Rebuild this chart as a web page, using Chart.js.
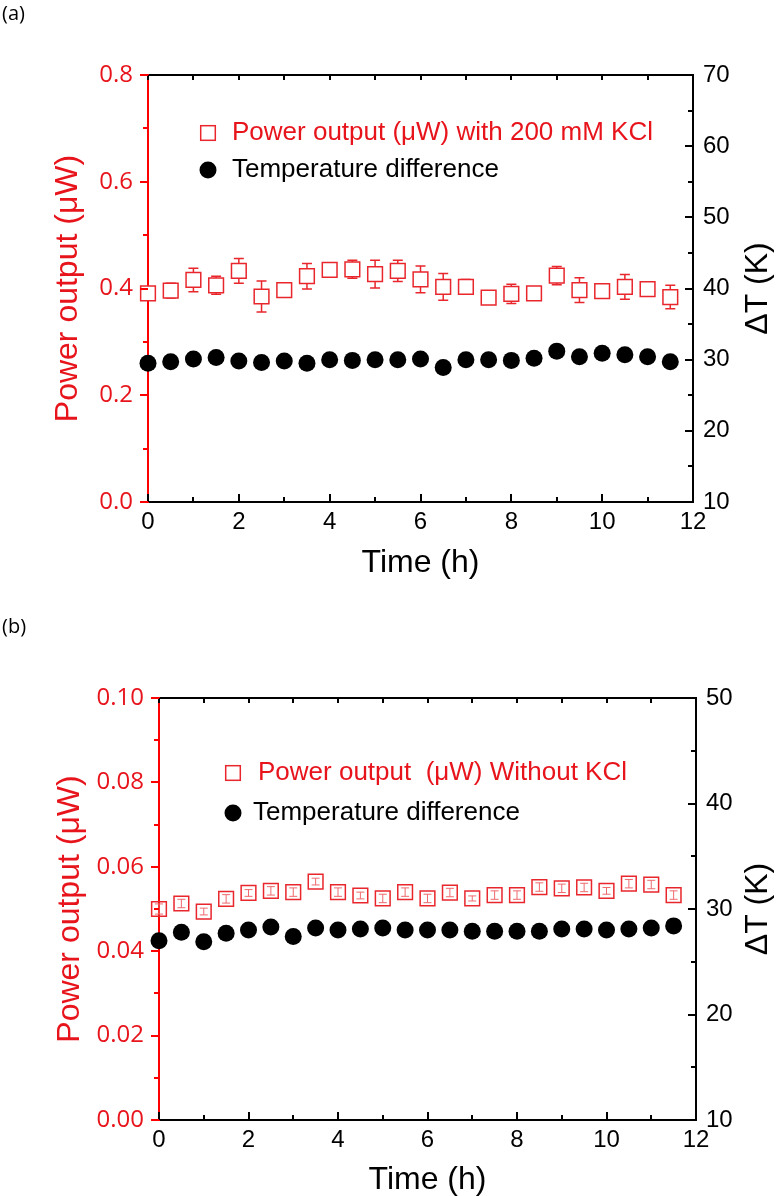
<!DOCTYPE html>
<html>
<head>
<meta charset="utf-8">
<script src="https://cdn.jsdelivr.net/npm/chart.js@4.4.0/dist/chart.umd.min.js"></script>
<style>
  body { margin: 0; background: #fff; width: 779px; height: 1196px; position: relative; overflow: hidden; }
  canvas { position: absolute; left: 0; }
  #chartA { top: 0; }
  #chartB { top: 620px; }
  .tag { position: absolute; left: 2px; font: 20px "Open Sans", sans-serif; color: #000; z-index: 2; }
</style>
</head>
<body>
<div class="tag" style="top:-1px">(a)</div>
<div class="tag" style="top:612px">(b)</div>
<canvas id="chartA" width="779" height="600"></canvas>
<canvas id="chartB" width="779" height="576"></canvas>
<script>
const ARIAL = "'Liberation Sans', Arial, sans-serif";
const CALIBRI = "'Open Sans', sans-serif";
const RED = "#ff0000";
const RED_TEXT = "#e8141c";
const RED_MARK = "#e8262c";

// panel (a): with 200 mM KCl
const timeA = [0, 0.5, 1, 1.5, 2, 2.5, 3, 3.5, 4, 4.5, 5, 5.5, 6, 6.5, 7, 7.5, 8, 8.5, 9, 9.5, 10, 10.5, 11, 11.5];
const powerA = [0.391, 0.396, 0.416, 0.406, 0.433, 0.385, 0.397, 0.423, 0.435, 0.436, 0.427, 0.433,
  0.417, 0.403, 0.403, 0.383, 0.390, 0.391, 0.424, 0.397, 0.395, 0.403, 0.399, 0.384];
const powerErrA = [0.004, 0.014, 0.022, 0.017, 0.023, 0.029, 0.013, 0.024, 0.005, 0.017, 0.026, 0.020,
  0.025, 0.025, 0.014, 0.004, 0.018, 0.004, 0.017, 0.023, 0.004, 0.023, 0.013, 0.022];
const tempA = [29.5, 29.7, 30.1, 30.3, 29.8, 29.6, 29.8, 29.5, 30.0, 29.9, 30.0, 30.0,
  30.1, 28.9, 30.0, 30.0, 29.9, 30.2, 31.2, 30.4, 30.9, 30.7, 30.4, 29.7];

// panel (b): without KCl
const timeB = [0, 0.5, 1, 1.5, 2, 2.5, 3, 3.5, 4, 4.5, 5, 5.5, 6, 6.5, 7, 7.5, 8, 8.5, 9, 9.5, 10, 10.5, 11, 11.5];
const powerB = [0.0500, 0.0513, 0.0494, 0.0524, 0.0538, 0.0543, 0.0540, 0.0565, 0.0540, 0.0532, 0.0525, 0.0540,
  0.0525, 0.0539, 0.0525, 0.0533, 0.0533, 0.0552, 0.0549, 0.0551, 0.0543, 0.0560, 0.0558, 0.0533];
const powerErrB = [0.0012, 0.0010, 0.0008, 0.0010, 0.0008, 0.0010, 0.0010, 0.0008, 0.0010, 0.0008, 0.0010, 0.0010,
  0.0010, 0.0010, 0.0006, 0.0010, 0.0010, 0.0010, 0.0010, 0.0010, 0.0008, 0.0010, 0.0010, 0.0010];
const tempB = [27.0, 27.8, 26.9, 27.7, 28.0, 28.3, 27.4, 28.2, 28.0, 28.1, 28.2, 28.0,
  28.0, 28.0, 27.9, 27.9, 27.9, 27.9, 28.1, 28.1, 28.0, 28.1, 28.2, 28.4];

// error bars drawn with the chart's own scales
function errorBarPlugin(times, values, errors, style) {
  const hook = style.onTop ? "afterDatasetsDraw" : "beforeDatasetsDraw";
  return {
    id: "errorBars",
    [hook](chart) {
      const ctx = chart.ctx, xs = chart.scales.x, ys = chart.scales.y;
      ctx.save();
      ctx.strokeStyle = style.color;
      ctx.lineWidth = style.width;
      ctx.beginPath();
      times.forEach((t, i) => {
        const x = xs.getPixelForValue(t);
        const lo = ys.getPixelForValue(values[i] - errors[i]);
        const hi = ys.getPixelForValue(values[i] + errors[i]);
        ctx.moveTo(x, lo); ctx.lineTo(x, hi);
        ctx.moveTo(x - style.cap, lo); ctx.lineTo(x + style.cap, lo);
        ctx.moveTo(x - style.cap, hi); ctx.lineTo(x + style.cap, hi);
      });
      ctx.stroke();
      ctx.restore();
    }
  };
}

// major/minor tick marks (left outward, others inward like Origin)
function tickPlugin(steps) {
  function mark(ctx, scale, step, len, side, a) {
    for (let v = scale.min; v <= scale.max + 1e-9; v += step) {
      const p = Math.round(scale.getPixelForValue(v));
      ctx.beginPath();
      if (side === "bottom") { ctx.moveTo(p, a.bottom); ctx.lineTo(p, a.bottom - len); }
      if (side === "top") { ctx.moveTo(p, a.top); ctx.lineTo(p, a.top + len); }
      if (side === "left") { ctx.moveTo(a.left, p); ctx.lineTo(a.left - len, p); }
      if (side === "right") { ctx.moveTo(a.right, p); ctx.lineTo(a.right - len, p); }
      ctx.stroke();
    }
  }
  return {
    id: "tickMarks",
    afterDraw(chart) {
      const ctx = chart.ctx, a = chart.chartArea, s = chart.scales;
      ctx.save();
      ctx.lineWidth = 2;
      ctx.strokeStyle = "#000";
      mark(ctx, s.x, 1, 5, "bottom", a);
      mark(ctx, s.x, 2, 8, "bottom", a);
      mark(ctx, s.x, 1, 5, "top", a);
      mark(ctx, s.y2, steps.y2 / 2, 5, "right", a);
      mark(ctx, s.y2, steps.y2, 8, "right", a);
      ctx.strokeStyle = RED;
      mark(ctx, s.y, steps.y / 2, 5, "left", a);
      mark(ctx, s.y, steps.y, 8, "left", a);
      ctx.restore();
    }
  };
}

// right axis title reads bottom-to-top, as in Origin
function rightTitlePlugin(text, cx) {
  return {
    id: "rightTitle",
    afterDraw(chart) {
      const ctx = chart.ctx, a = chart.chartArea;
      ctx.save();
      ctx.translate(cx, (a.top + a.bottom) / 2);
      ctx.rotate(-Math.PI / 2);
      ctx.fillStyle = "#000";
      ctx.font = "32px " + ARIAL;
      ctx.textAlign = "center";
      ctx.textBaseline = "middle";
      ctx.fillText(text, 0, 0);
      ctx.restore();
    }
  };
}

function legendPlugin(items) {
  return {
    id: "insideLegend",
    afterDraw(chart) {
      const ctx = chart.ctx;
      ctx.save();
      items.forEach((it) => {
        if (it.marker === "square") {
          ctx.strokeStyle = RED_MARK;
          ctx.lineWidth = 1.5;
          ctx.strokeRect(it.mx - 7.3, it.my - 7.3, 14.6, 14.6);
        } else {
          ctx.fillStyle = "#000";
          ctx.beginPath();
          ctx.arc(it.mx, it.my, 8.5, 0, Math.PI * 2);
          ctx.fill();
        }
        ctx.fillStyle = it.color;
        ctx.font = "26px " + ARIAL;
        ctx.textBaseline = "middle";
        ctx.textAlign = "left";
        ctx.fillText(it.text, it.tx, it.my);
      });
      ctx.restore();
    }
  };
}

function makeChart(canvasId, p) {
  const points = (ts, vs) => ts.map((t, i) => ({ x: t, y: vs[i] }));
  return new Chart(document.getElementById(canvasId), {
    type: "scatter",
    data: {
      datasets: [
        {
          label: "Temperature difference",
          data: points(p.time, p.temp),
          yAxisID: "y2",
          pointStyle: "circle",
          pointRadius: 8.5,
          pointBackgroundColor: "#000",
          pointBorderColor: "#000",
          pointBorderWidth: 0,
          clip: false,
        },
        {
          label: "Power output",
          data: points(p.time, p.power),
          yAxisID: "y",
          pointStyle: "rect",
          pointRadius: 10.4,
          pointBackgroundColor: p.fill,
          pointBorderColor: RED_MARK,
          pointBorderWidth: 1.5,
          clip: false,
        },
      ],
    },
    options: {
      responsive: false,
      animation: false,
      events: [],
      layout: { padding: 0 },
      plugins: { legend: { display: false }, tooltip: { enabled: false } },
      scales: {
        x: {
          type: "linear", position: "bottom", min: 0, max: 12,
          ticks: { stepSize: 2, color: "#000", font: { family: ARIAL, size: 24 }, padding: 6, maxRotation: 0 },
          grid: { drawOnChartArea: false, drawTicks: false },
          border: { color: "#000", width: 2 },
          title: { display: true, text: "Time (h)", color: "#000",
            font: { family: ARIAL, size: 32, lineHeight: 1 }, padding: { top: 0, bottom: p.xTitlePad } },
          afterFit(s) { s.height = p.bottomH; },
        },
        xTop: {
          type: "linear", axis: "x", position: "top", min: 0, max: 12,
          ticks: { display: false },
          grid: { drawOnChartArea: false, drawTicks: false },
          border: { color: "#000", width: 2 },
          afterFit(s) { s.height = p.topH; },
        },
        y: {
          type: "linear", position: "left", min: 0, max: p.yMax,
          ticks: { stepSize: p.yStep, color: RED_TEXT, font: { family: CALIBRI, size: 24 }, padding: 15,
            callback: (v) => v.toFixed(p.yDigits) },
          grid: { drawOnChartArea: false, drawTicks: false },
          border: { color: RED, width: 2 },
          title: { display: true, text: "Power output (\u03bcW)", color: RED_TEXT,
            font: { family: ARIAL, size: 32, lineHeight: 1 }, padding: { top: p.yTitlePad, bottom: 0 } },
          afterFit(s) { s.width = p.leftW; },
        },
        y2: {
          type: "linear", position: "right", min: p.y2Min, max: p.y2Max,
          ticks: { stepSize: p.y2Step, color: "#000", font: { family: ARIAL, size: 24 }, padding: 10 },
          grid: { drawOnChartArea: false, drawTicks: false },
          border: { color: "#000", width: 2 },
          afterFit(s) { s.width = p.rightW; },
        },
      },
    },
    plugins: [
      errorBarPlugin(p.time, p.power, p.err, p.errStyle),
      tickPlugin({ y: p.yStep, y2: p.y2Step }),
      rightTitlePlugin("\u0394T (K)", p.y2TitleX),
      legendPlugin(p.legend),
    ],
  });
}

makeChart("chartA", {
  time: timeA, power: powerA, err: powerErrA, temp: tempA,
  fill: "#fff",
  errStyle: { color: RED_MARK, width: 1.5, cap: 5, onTop: false },
  yMax: 0.8, yStep: 0.2, yDigits: 1,
  y2Min: 10, y2Max: 70, y2Step: 10,
  leftW: 148, rightW: 86, topH: 75, bottomH: 98,
  xTitlePad: 21, yTitlePad: 52, y2TitleX: 758,
  legend: [
    { marker: "square", mx: 208, my: 133, tx: 232, text: "Power output (\u03bcW) with 200 mM KCl", color: RED_TEXT },
    { marker: "circle", mx: 208, my: 170, tx: 232, text: "Temperature difference", color: "#000" },
  ],
});

makeChart("chartB", {
  time: timeB, power: powerB, err: powerErrB, temp: tempB,
  fill: "rgba(255,255,255,0)",
  errStyle: { color: "#ee6a6e", width: 1, cap: 4, onTop: true },
  yMax: 0.1, yStep: 0.02, yDigits: 2,
  y2Min: 10, y2Max: 50, y2Step: 10,
  leftW: 159, rightW: 83, topH: 78, bottomH: 76,
  xTitlePad: 0, yTitlePad: 54, y2TitleX: 758,
  legend: [
    { marker: "square", mx: 233, my: 153, tx: 258, text: "Power output  (\u03bcW) Without KCl", color: RED_TEXT },
    { marker: "circle", mx: 233, my: 193, tx: 253, text: "Temperature difference", color: "#000" },
  ],
});
</script>
</body>
</html>
